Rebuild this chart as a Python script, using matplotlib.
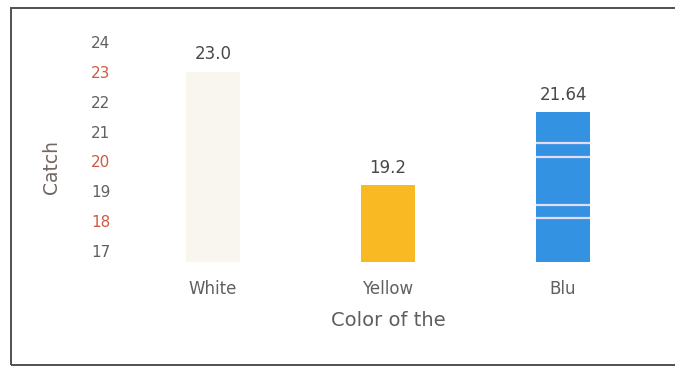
import matplotlib.pyplot as plt
from matplotlib.patches import Rectangle

# --- data ---
colors_of_lure = ["White", "Yellow", "Blu"]
catch = [23.0, 19.2, 21.64]
value_labels = ["23.0", "19.2", "21.64"]
y_ticks = [17, 18, 19, 20, 21, 22, 23, 24]

bar_colors = ["#f8f6ef", "#f8b922", "#3492e2"]
red_ticks = [23, 20, 18]  # tick labels printed in red
blue_stripes = [20.63, 20.16, 18.54, 18.1]  # pale lines across the blue bar

plt.rcParams['font.family'] = ['DejaVu Sans']

W, H = 675, 368
fig = plt.figure(figsize=(W / 100, H / 100), dpi=100)
ax = fig.add_axes([120 / W, (H - 262) / H, 536 / W, 232 / H])

x = range(len(colors_of_lure))
bars = ax.bar(x, catch, width=0.31, bottom=0, color=bar_colors, zorder=2)

# stripes on the blue bar
b = bars[2]
for yy in blue_stripes:
    ax.hlines(yy, b.get_x(), b.get_x() + b.get_width(), color="#e4dcf2",
              linewidth=1.6, zorder=3)

for xi, v, lab in zip(x, catch, value_labels):
    ax.annotate(lab, (xi, v), xytext=(0, 6), textcoords="offset points",
                ha="center", va="bottom", fontsize=12, color="#484848")

ax.set_xlim(-0.531, 2.531)
ax.set_ylim(16.63, 24.4)
ax.set_yticks(y_ticks)
ax.set_xticks(list(x))
ax.set_xticklabels(colors_of_lure)
ax.tick_params(axis="both", length=0, labelcolor="#606060")
ax.tick_params(axis="y", pad=7, labelsize=11)
ax.tick_params(axis="x", pad=13, labelsize=12)
for t, val in zip(ax.get_yticklabels(), y_ticks):
    if val in red_ticks:
        t.set_color("#cc5a44")

ax.set_xlabel("Color of the", fontsize=14, color="#5e5e5e", va="center")
ax.xaxis.set_label_coords(0.5, -0.25)
ax.set_ylabel("Catch", fontsize=13.5, color="#726660", va="center")
ax.yaxis.set_label_coords(-0.127, 0.41)

for s in ax.spines.values():
    s.set_visible(False)

# outer frame
fig.patches.append(Rectangle((11 / W, (H - 365) / H), 700 / W, 357 / H,
                             transform=fig.transFigure, fill=False,
                             edgecolor="#505050", linewidth=1.4))

fig.savefig("out.png", dpi=100)
